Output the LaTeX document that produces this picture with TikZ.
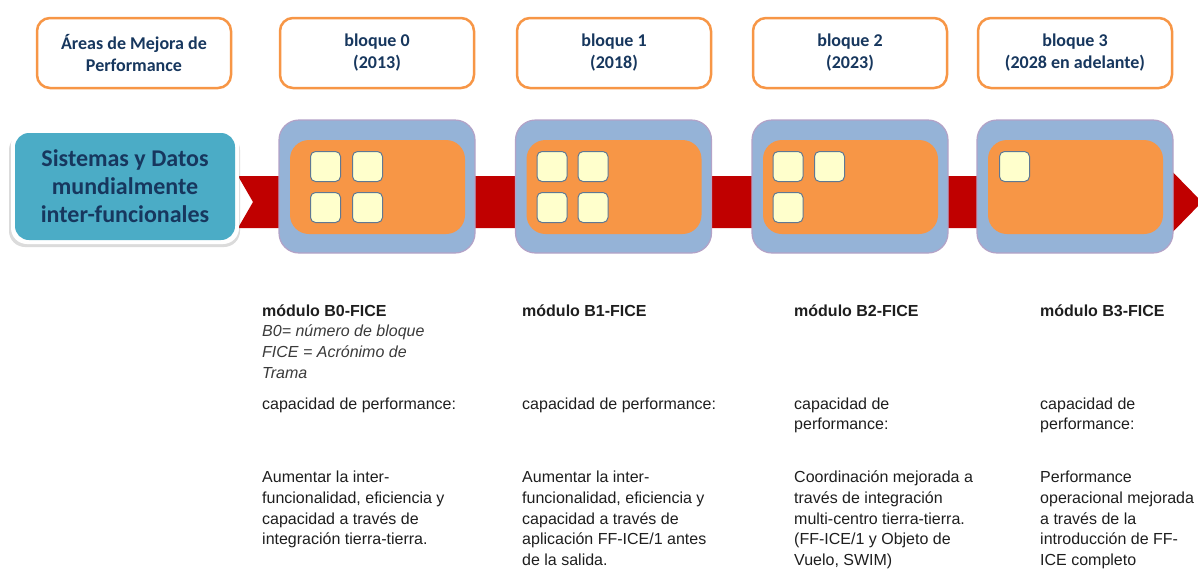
\documentclass[tikz,border=0pt]{standalone}
\usepackage{fontspec}
\setmainfont{Liberation Sans}
\newfontfamily\calfont{Carlito}
\definecolor{navy}{HTML}{17375E}
\definecolor{orng}{HTML}{F79646}
\definecolor{bluebox}{HTML}{95B3D7}
\definecolor{lav}{HTML}{B3A2C7}
\definecolor{cream}{HTML}{FFFFCC}
\definecolor{sqborder}{HTML}{5F7893}
\definecolor{redband}{HTML}{C00000}
\definecolor{tealc}{HTML}{4BACC6}
\definecolor{txt}{HTML}{1E1E1E}
\definecolor{itx}{HTML}{3A3A3A}
\tikzset{
  hdr/.style={draw=orng, line width=2.5pt, fill=white, rounded corners=13pt,
    minimum width=194pt, minimum height=70pt, inner sep=0pt, align=center,
    text=navy, font=\calfont\bfseries\fontsize{18}{22}\selectfont},
  outerbox/.style={draw=lav, line width=1.2pt, fill=bluebox, rounded corners=20pt,
    minimum width=196pt, minimum height=133pt, inner sep=0pt},
  innerbox/.style={fill=orng, rounded corners=19pt,
    minimum width=175pt, minimum height=94pt, inner sep=0pt},
  sq/.style={draw=sqborder, line width=1pt, fill=cream, rounded corners=5pt,
    minimum width=30pt, minimum height=30pt, inner sep=0pt},
  body/.style={anchor=north west, align=left, inner sep=0pt, text=txt,
    font=\fontsize{16}{20.7}\selectfont, yshift=14.49pt},
}
\begin{document}
\begin{tikzpicture}[x=1pt,y=-1pt]
\useasboundingbox (0,0) rectangle (1198,568);

% header boxes
\node[hdr] (h0) at (134,53) {Áreas de Mejora de\\Performance};
\node[hdr] (h1) at (377,53) {bloque 0\\(2013)};
\node[hdr] (h2) at (614,53) {bloque 1\\(2018)};
\node[hdr] (h3) at (850,53) {bloque 2\\(2023)};
\node[hdr] (h4) at (1075,53) {bloque 3\\(2028 en adelante)};

% red band arrow
\fill[redband] (238,176) -- (1160,176) -- (1160,159) -- (1202,202) -- (1160,245)
  -- (1160,228) -- (238,228) -- (253,202) -- cycle;

% teal box
\fill[black, opacity=0.14, rounded corners=16pt] (9,134) rectangle (240,247);
\fill[white, rounded corners=16pt] (11,129) rectangle (239,244);
\node[fill=tealc, rounded corners=14pt, minimum width=220pt, minimum height=107pt,
  inner sep=0pt, align=center, text=navy,
  font=\calfont\bfseries\fontsize{24}{28}\selectfont] (sd) at (125,186.5)
  {Sistemas y Datos\\mundialmente\\inter-funcionales};

% blocks
\node[outerbox] (b0) at (377,186.5) {};
\node[outerbox] (b1) at (613.5,186.5) {};
\node[outerbox] (b2) at (850,186.5) {};
\node[outerbox] (b3) at (1075,186.5) {};
\node[innerbox] (o0) at (377.5,187) {};
\node[innerbox] (o1) at (614,187) {};
\node[innerbox] (o2) at (850.5,187) {};
\node[innerbox] (o3) at (1075.5,187) {};

\node[sq] (s00) at (325.5,166.5) {};
\node[sq] (s01) at (367.5,166.5) {};
\node[sq] (s02) at (325.5,207.5) {};
\node[sq] (s03) at (367.5,207.5) {};
\node[sq] (s10) at (552,166.5) {};
\node[sq] (s11) at (593,166.5) {};
\node[sq] (s12) at (552,207.5) {};
\node[sq] (s13) at (593,207.5) {};
\node[sq] (s20) at (788,166.5) {};
\node[sq] (s21) at (829.5,166.5) {};
\node[sq] (s22) at (788,207.5) {};
\node[sq] (s30) at (1014.5,166.5) {};

% lower texts (coordinates are first-line baselines)
\node[body] (t0) at (262,316) {\strut\textbf{módulo B0-FICE}\\
  {\itshape\color{itx}B0= número de bloque}\\
  {\itshape\color{itx}FICE = Acrónimo de}\\
  {\itshape\color{itx}Trama}};
\node[body] (t1) at (522,316) {\strut\textbf{módulo B1-FICE}};
\node[body] (t2) at (794,316) {\strut\textbf{módulo B2-FICE}};
\node[body] (t3) at (1040,316) {\strut\textbf{módulo B3-FICE}};

\node[body] (c0) at (262,409) {\strut capacidad de performance:};
\node[body] (c1) at (522,409) {\strut capacidad de performance:};
\node[body] (c2) at (794,409) {\strut capacidad de\\performance:};
\node[body] (c3) at (1040,409) {\strut capacidad de\\performance:};

\node[body] (d0) at (262,482.5) {\strut Aumentar la inter-\\funcionalidad, eficiencia y\\capacidad a través de\\integración tierra-tierra.};
\node[body] (d1) at (522,482.5) {\strut Aumentar la inter-\\funcionalidad, eficiencia y\\capacidad a través de\\aplicación FF-ICE/1 antes\\de la salida.};
\node[body] (d2) at (794,482.5) {\strut Coordinación mejorada a\\través de integración\\multi-centro tierra-tierra.\\(FF-ICE/1 y Objeto de\\Vuelo, SWIM)};
\node[body] (d3) at (1040,482.5) {\strut Performance\\operacional mejorada\\a través de la\\introducción de FF-\\ICE completo};
\end{tikzpicture}
\end{document}
